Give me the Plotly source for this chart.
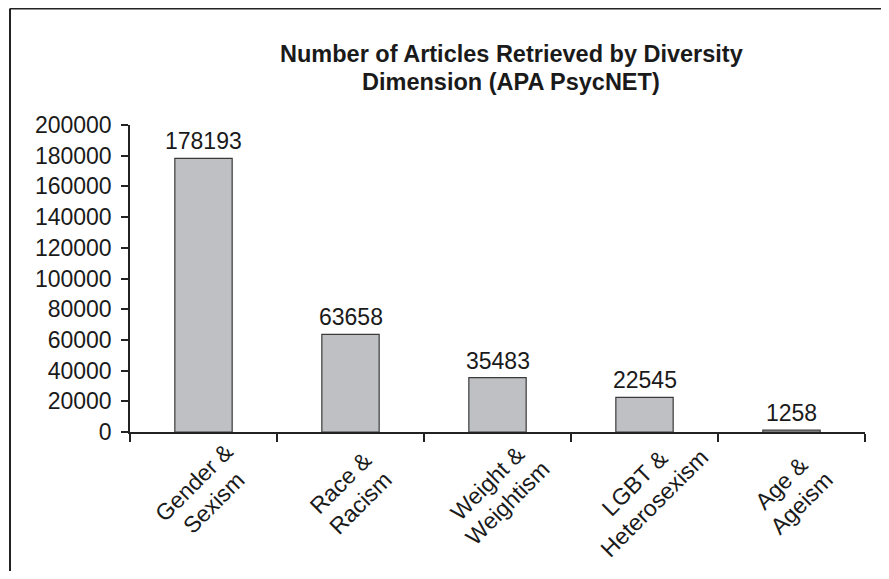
import plotly.graph_objects as go

categories = ["Gender & Sexism", "Race & Racism", "Weight & Weightism",
              "LGBT & Heterosexism", "Age & Ageism"]
category_lines = [["Gender &", "Sexism"], ["Race &", "Racism"], ["Weight &", "Weightism"],
                  ["LGBT &", "Heterosexism"], ["Age &", "Ageism"]]
articles = [178193, 63658, 35483, 22545, 1258]
y_ticks = [0, 20000, 40000, 60000, 80000, 100000, 120000, 140000, 160000, 180000, 200000]
title_lines = ["Number of Articles Retrieved by Diversity", "Dimension (APA PsycNET)"]

FONT = "Liberation Sans, Arial, Helvetica, sans-serif"
INK = "#1a1a1a"
FS = 23

# page body has an 8px margin -> figure is 16px smaller than the window
W, H = 873, 563
L, R, T, B = 122, 16, 117, 139
PW, PH = W - L - R, H - T - B

fig = go.Figure(go.Bar(
    x=categories, y=articles,
    width=0.39,
    marker=dict(color="#bfc0c3", line=dict(color="#3a3a3a", width=1.2)),
    hoverinfo="skip",
))

# value labels above bars
for c, v in zip(categories, articles):
    fig.add_annotation(x=c, y=v, xref="x", yref="y", text=str(v), showarrow=False,
                       yanchor="bottom", yshift=2,
                       font=dict(size=FS, color=INK, family=FONT))

# rotated two-line category labels (each line its own rotated text)
BLOCK_DY = 61   # block centre below the axis, px
LH = 28         # line spacing, px
off = LH * 0.5 * 0.7071
for c, lines in zip(categories, category_lines):
    for i, ln in enumerate(lines):
        s = -1 if i == 0 else 1
        fig.add_annotation(x=c, y=0, xref="x", yref="paper", text=ln, showarrow=False,
                           textangle=-45, xanchor="center", yanchor="middle",
                           xshift=s * off, yshift=-(BLOCK_DY + s * off),
                           font=dict(size=FS, color=INK, family=FONT))

# title, two lines
for ln, fy in zip(title_lines, [45, 73]):
    fig.add_annotation(x=503 / W, y=1, xref="paper", yref="paper", text="<b>" + ln + "</b>",
                       showarrow=False, xanchor="center", yanchor="middle",
                       yshift=T - fy - 1,
                       font=dict(size=23.5, color=INK, family=FONT))
# paper x for title centre: convert figure px to plot-paper coords
fig.layout.annotations[-1].x = (503 - L) / PW
fig.layout.annotations[-2].x = (503 - L) / PW

fig.update_layout(
    width=W, height=H,
    margin=dict(l=L, r=R, t=T, b=B),
    paper_bgcolor="white", plot_bgcolor="white",
    font=dict(family=FONT, color=INK, size=FS),
    showlegend=False,
)
fig.update_xaxes(
    showline=True, linecolor="#222", linewidth=1.5,
    ticks="outside", tickson="boundaries", ticklen=8, tickcolor="#222", tickwidth=1.5,
    showticklabels=False,
    showgrid=False, zeroline=False,
)
fig.update_yaxes(
    range=[0, 200000], tickvals=y_ticks, ticktext=[str(v) for v in y_ticks],
    showline=True, linecolor="#222", linewidth=1.5,
    ticks="outside", ticklen=7, tickcolor="#222", tickwidth=1.5,
    ticklabelstandoff=5,
    tickfont=dict(size=FS, color=INK, family=FONT),
    showgrid=False, zeroline=False,
)

# figure frame (top and left edges)
x0 = (2 - L) / PW
x1 = (W + 5 - L) / PW
yt = (H - B - 0.5) / PH
yb = (-B - 5) / PH
fig.add_shape(type="line", xref="paper", yref="paper", x0=x0, x1=x1, y0=yt, y1=yt,
              line=dict(color="#222", width=2))
fig.add_shape(type="line", xref="paper", yref="paper", x0=x0, x1=x0, y0=yt, y1=yb,
              line=dict(color="#222", width=2))

fig.write_html("out.html")
